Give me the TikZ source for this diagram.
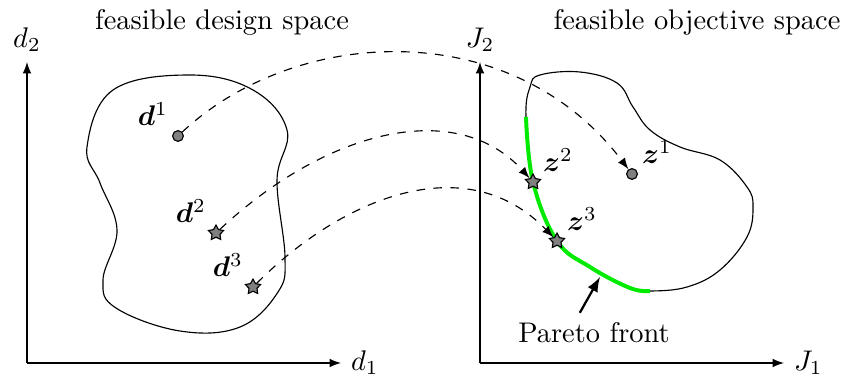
\documentclass[tikz,border=0pt]{standalone}
\usepackage{bm}
\usetikzlibrary{shapes.geometric}
\definecolor{frontgreen}{RGB}{0,235,0}
\tikzset{
  designpt/.style={circle, draw, fill=gray, minimum size=3.8pt, inner sep=0pt},
  starpt/.style={star, star points=5, star point ratio=1.9, draw, fill=gray, minimum size=5.6pt, inner sep=0pt},
  mapping/.style={dashed, ->},
}
\begin{document}
\begin{tikzpicture}[x=0.352pt, y=0.352pt, >=latex]
  \useasboundingbox (0,0) rectangle (842,376);
  % Titles
  \node (dtitle) at (222,354) {feasible design space};
  \node (otitle) at (697,354) {feasible objective space};
  % Axes
  \coordinate (o1) at (27,13);
  \coordinate (d1end) at (341,13);
  \coordinate (d2end) at (27,314);
  \coordinate (o2) at (480,13);
  \coordinate (j1end) at (784,13);
  \coordinate (j2end) at (480,314);
  \draw[->] (o1) -- (d1end);
  \draw[->] (o1) -- (d2end);
  \draw[->] (o2) -- (j1end);
  \draw[->] (o2) -- (j2end);
  \node[right] (d1lab) at (d1end) {$d_1$};
  \node[above] (d2lab) at (d2end) {$d_2$};
  \node[right] (j1lab) at (j1end) {$J_1$};
  \node[above] (j2lab) at (j2end) {$J_2$};
  % Design space region
  \draw plot[smooth cycle, tension=0.65] coordinates {(87,229) (113,286) (190,301) (253,286)
    (287,246) (277,196) (285,119) (278,84) (240,49) (180,45) (116,68) (103,96) (117,146) (100,193)};
  % Objective space region
  \draw plot[smooth cycle, tension=0.65] coordinates {(526,259) (530,289) (540,301) (580,304)
    (617,293) (633,269) (650,246) (680,229) (720,216) (747,189) (753,169) (747,139) (720,106)
    (687,89) (650,85) (630,88) (590,109) (557,135) (533,194)};
  % Pareto front
  \draw[frontgreen, line width=1.4pt] plot[smooth, tension=0.65] coordinates {(650,85) (630,88)
    (590,109) (557,135) (533,194) (526,259)};
  % Designs
  \node[designpt] (d1) at (178,240) {};
  \node[starpt] (d2) at (216,143) {};
  \node[starpt] (d3) at (253,89) {};
  \node[above left] at (d1) {$\bm{d}^1$};
  \node[above left] at (d2) {$\bm{d}^2$};
  \node[above left] at (d3) {$\bm{d}^3$};
  % Objectives
  \node[designpt] (z1) at (632,202) {};
  \node[starpt] (z2) at (533,194) {};
  \node[starpt] (z3) at (557,135) {};
  \node[above right] at (z1) {$\bm{z}^1$};
  \node[above right] at (z2) {$\bm{z}^2$};
  \node[above right] at (z3) {$\bm{z}^3$};
  % Mappings
  \draw[mapping] (d1) to[out=43, in=127, out distance=55pt, in distance=68pt] (z1);
  \draw[mapping] (d2) to[out=43, in=132, out distance=52pt, in distance=38pt] (z2);
  \draw[mapping] (d3) to[out=45, in=134, out distance=43pt, in distance=44pt] (z3);
  % Pareto front label
  \node (pf) at (594,43) {Pareto front};
  \coordinate (pftip) at (600,99);
  \draw[->, thick] ([xshift=-5pt]pf.north) -- (pftip);
\end{tikzpicture}
\end{document}
